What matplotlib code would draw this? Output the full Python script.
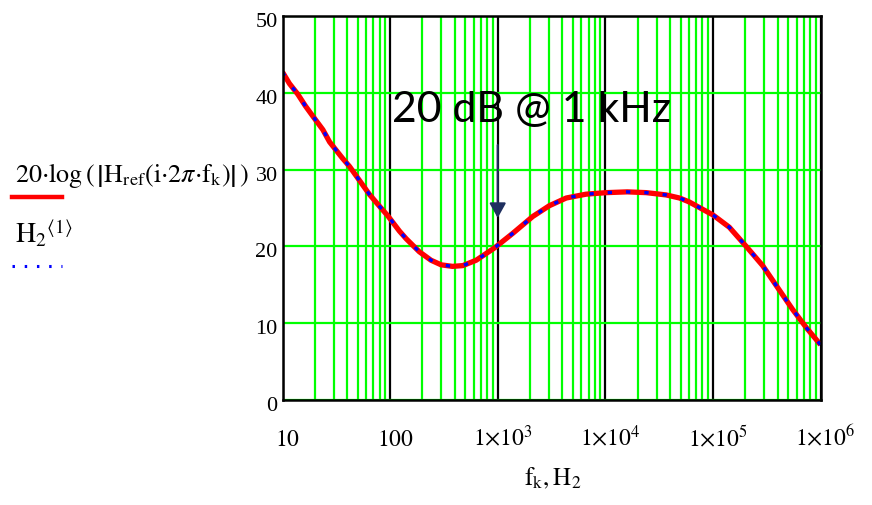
import matplotlib
matplotlib.use("Agg")
import matplotlib.pyplot as plt
from matplotlib.ticker import LogLocator, NullFormatter
from matplotlib.lines import Line2D
from matplotlib.transforms import ScaledTranslation

plt.rcParams['mathtext.fontset'] = 'stix'

# Data
freq_hz = [10, 11.6, 13.9, 16.3, 19.5, 23.7, 27.4, 36, 42, 64, 80, 95, 122, 141, 187,
           240, 298, 380, 474, 631, 933, 1380, 2120, 3020, 4330, 6620, 10200, 16000,
           24000, 36800, 49000, 60000, 100000, 142000, 204000, 290000, 388000,
           550000, 740000, 1000000]
h_ref_db = [42.7, 41.2, 39.8, 38.3, 36.8, 35.2, 33.6, 31.5, 30.4, 26.8, 25.2, 24.0, 22.0,
            21.0, 19.3, 18.2, 17.6, 17.4, 17.5, 18.2, 19.8, 21.7, 23.9, 25.3, 26.3, 26.8,
            27.0, 27.1, 27.0, 26.7, 26.3, 25.8, 24.1, 22.5, 20.0, 17.5, 14.9, 11.8, 9.4, 7.2]
h2_db = h_ref_db[:]  # second series overlays the first

x_ticks = [10, 100, 1e3, 1e4, 1e5, 1e6]
x_tick_labels = ['$10$', '$100$', r'$1{\times}10^{3}$', r'$1{\times}10^{4}$',
                 r'$1{\times}10^{5}$', r'$1{\times}10^{6}$']
y_ticks = [0, 10, 20, 30, 40, 50]
y_tick_labels = ['0', '10', '20', '30', '40', '50']

annot_text = '20 dB @ 1 kHz'
annot_freq = 1000
annot_arrow_from = 33.2
annot_arrow_to = 23.7
annot_text_pos = (105, 36.2)

W, H = 872, 505
fig = plt.figure(figsize=(W / 100, H / 100), dpi=100)
ax = fig.add_axes([282.5 / W, 105 / H, 538 / W, 384 / H])

GREEN = '#00ff00'
ax.set_xscale('log')
ax.set_xlim(10, 1e6)
ax.set_ylim(0, 50)
ax.xaxis.set_minor_locator(LogLocator(base=10, subs=range(2, 10), numticks=50))
ax.xaxis.set_minor_formatter(NullFormatter())
ax.set_axisbelow(True)
ax.grid(which='minor', axis='x', color=GREEN, lw=1.6)
ax.grid(which='major', axis='y', color=GREEN, lw=1.6)
ax.grid(which='major', axis='x', color='black', lw=1.6)
for s in ax.spines.values():
    s.set_linewidth(1.8)
    s.set_color('black')
    s.set_zorder(5)

ax.set_xticks(x_ticks, x_tick_labels)
ax.set_yticks(y_ticks, y_tick_labels)
ax.tick_params(which='both', length=0)
ax.tick_params(axis='x', pad=33, labelsize=17)
ax.tick_params(axis='y', pad=3.5, labelsize=16)
for lbl in ax.get_xticklabels():
    lbl.set_va('baseline')
    lbl.set_transform(lbl.get_transform() + ScaledTranslation(5 / 100, 0, fig.dpi_scale_trans))
for lbl in ax.get_yticklabels():
    lbl.set_fontfamily('Liberation Serif')
    lbl.set_transform(lbl.get_transform() + ScaledTranslation(0, -4 / 100, fig.dpi_scale_trans))

ax.plot(freq_hz, h_ref_db, color='#ff0000', lw=3.8, solid_capstyle='butt', zorder=3)
ax.plot(freq_hz, h2_db, color='#0000ff', lw=2.4, linestyle=(0, (1.3, 4.2)), zorder=4)

ax.annotate('', xy=(annot_freq, annot_arrow_to), xytext=(annot_freq, annot_arrow_from),
            arrowprops=dict(arrowstyle='-|>,head_length=9,head_width=5', color='#1f2f5f',
                            lw=1.5, mutation_scale=1, shrinkA=0, shrinkB=0), zorder=6)
ax.text(annot_text_pos[0], annot_text_pos[1], annot_text, fontsize=30.8, family='Lato',
        ha='left', va='baseline', color='black', zorder=6)

# x label
fig.text(553 / W, 1 - 478 / H, r'$\mathrm{f_k, H_2}$', fontsize=18, ha='center', va='center')

# legend / y label on the left
fig.text(15 / W, 1 - 182 / H,
         r'$20{\cdot}\log\left(\,\left|\mathrm{H_{ref}}\left(\mathrm{i}{\cdot}2\pi{\cdot}\mathrm{f_k}\right)\right|\,\right)$',
         fontsize=18.8, ha='left', va='baseline')
fig.add_artist(Line2D([12 / W, 62 / W], [1 - 197 / H, 1 - 197 / H], color='#ff0000', lw=3.2,
                      transform=fig.transFigure))
fig.text(15 / W, 1 - 243 / H, r'$\mathrm{H_2}^{\langle 1\rangle}$', fontsize=20,
         ha='left', va='baseline')
fig.add_artist(Line2D([12 / W, 62 / W], [1 - 266 / H, 1 - 266 / H], color='#0000ff', lw=2.2,
                      linestyle=(0, (0.8, 3.2)), transform=fig.transFigure))

fig.savefig('out.png', dpi=100)
